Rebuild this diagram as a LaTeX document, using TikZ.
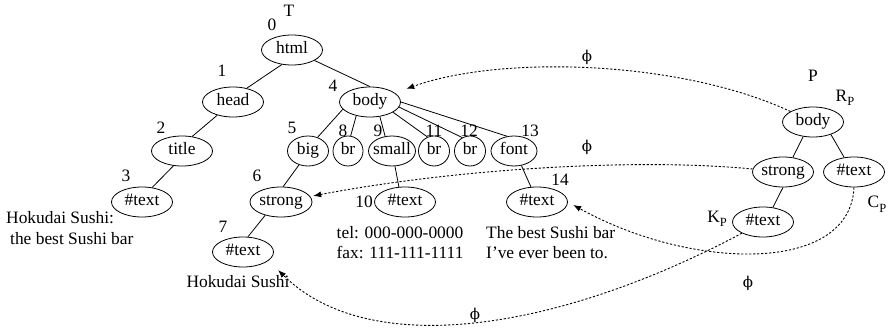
\documentclass[tikz,border=0pt]{standalone}
\usepackage{fontspec}
\setmainfont{Liberation Serif}
\newfontfamily\phifont{DejaVu Serif}
\usetikzlibrary{shapes.geometric,arrows.meta}
% zero-width text so the ellipse size is set only by minimum width/height
\newcommand{\ovtext}[1]{\makebox[0pt]{#1}}
\newcommand{\mapsym}{{\phifont\fontsize{15}{15}\selectfont ϕ}}
% lowered subscript at a fixed size
\newcommand{\lowsub}[1]{\raisebox{-4.5pt}{\fontsize{12.5}{12.5}\selectfont #1}}

\begin{document}
\begin{tikzpicture}[x=1pt,y=-1pt,
  font=\fontsize{17.4}{20.5}\selectfont,
  tn/.style={ellipse, draw, line width=0.8pt, minimum width=61pt, minimum height=30pt,
             inner sep=0pt, text height=11.5pt, text depth=3.5pt},
  lab/.style={inner sep=0pt},
  tedge/.style={line width=0.8pt},
  mapto/.style={line width=0.9pt, dash pattern=on 2.2pt off 1.8pt,
                -{Latex[length=8pt,width=6pt]}},
]
\useasboundingbox (0,0) rectangle (890,328);

% ---- tree T ----
\node[tn] (html)    at (292,50)  {\ovtext{html}};
\node[tn] (head)    at (233,102) {\ovtext{head}};
\node[tn] (title)   at (182,151) {\ovtext{title}};
\node[tn] (t3)      at (142,202) {\ovtext{\#text}};
\node[tn] (Tbody)   at (370,102) {\ovtext{body}};
\node[tn, minimum width=41pt] (big)   at (308,151) {\ovtext{big}};
\node[tn, minimum width=30pt] (br8)   at (348,151) {\ovtext{br}};
\node[tn, minimum width=47pt] (small) at (392,151) {\ovtext{small}};
\node[tn, minimum width=31pt] (br11)  at (434,151) {\ovtext{br}};
\node[tn, minimum width=31pt] (br12)  at (470,151) {\ovtext{br}};
\node[tn, minimum width=46pt] (font)  at (514,151) {\ovtext{font}};
\node[tn, minimum width=62pt] (Tstrong) at (281,202) {\ovtext{strong}};
\node[tn] (t7)      at (243,252) {\ovtext{\#text}};
\node[tn] (t10)     at (405,202) {\ovtext{\#text}};
\node[tn] (t14)     at (537,202) {\ovtext{\#text}};

\draw[tedge] (html.235) -- (head.45);
\draw[tedge] (head.220) -- (title.55);
\draw[tedge] (title.240) -- (t3.55);
\draw[tedge] (html.-25) -- (Tbody.north);
\draw[tedge] (Tbody.195) -- (big.55);
\draw[tedge] (Tbody.225) -- (br8.80);
\draw[tedge] (Tbody.-56) -- (small.115);
\draw[tedge] (Tbody.-24) -- (br11.115);
\draw[tedge] (Tbody.-10) -- (br12.120);
\draw[tedge] (Tbody.east) -- (font.115);
\draw[tedge] (big.237) -- (Tstrong.82);
\draw[tedge] (Tstrong.220) -- (t7.72);
\draw[tedge] (small.-79) -- (t10.112);
\draw[tedge] (font.-63) -- (t14.112);

% node numbers of T
\node[lab] (nT)  at (289,11)  {T};
\node[lab] (n0)  at (272,25)  {0};
\node[lab] (n1)  at (222,71)  {1};
\node[lab] (n2)  at (161,128) {2};
\node[lab] (n3)  at (126,176) {3};
\node[lab] (n4)  at (333,86)  {4};
\node[lab] (n5)  at (292,128) {5};
\node[lab] (n6)  at (257,176) {6};
\node[lab] (n7)  at (223,227) {7};
\node[lab] (n8)  at (343,131) {8};
\node[lab] (n9)  at (378,131) {9};
\node[lab] (n10) at (364,202) {10};
\node[lab] (n11) at (434,131) {11};
\node[lab] (n12) at (469,131) {12};
\node[lab] (n13) at (530,131) {13};
\node[lab] (n14) at (560,180) {14};

% text contents of T
\node[lab, anchor=west, align=left] (s3) at (6,228)
  {Hokudai Sushi:\\\hspace*{4pt}the best Sushi bar};
\node[lab] (s7) at (238,282) {Hokudai Sushi};
\node[lab, align=center] (s10) at (400,242.5) {tel: 000-000-0000\\fax: 111-111-1111};
\node[lab, anchor=west, align=left] (s14) at (486,242.5) {The best Sushi bar\\I’ve ever been to.};

% ---- pattern P ----
\node[tn] (Pbody)   at (813,122) {\ovtext{body}};
\node[tn] (Pstrong) at (783,172) {\ovtext{strong}};
\node[tn] (Pc)      at (854,172) {\ovtext{\#text}};
\node[tn] (Pk)      at (763,222) {\ovtext{\#text}};

\draw[tedge] (Pbody.236) -- (Pstrong.56);
\draw[tedge] (Pbody.-35) -- (Pc.124);
\draw[tedge] (Pstrong.270) -- (Pk.56);

\node[lab] (nP)  at (813,76)  {P};
\node[lab] (nRP) at (845,98)  {R\lowsub{P}};
\node[lab] (nKP) at (717,219) {K\lowsub{P}};
\node[lab] (nCP) at (877,204) {C\lowsub{P}};

% ---- embedding phi ----
\coordinate (kend) at (278,270);
\draw[mapto, shorten >=12pt] (Pbody) .. controls (680,60) and (500,55) .. (Tbody);
\draw[mapto, shorten >=3pt] (Pstrong) .. controls (640,158) and (460,168) .. (Tstrong);
\draw[mapto, shorten >=6pt] (Pc.south) .. controls (850,275) and (690,270) .. (t14.east);
\draw[mapto] (Pk) .. controls (560,330) and (370,361) .. (kend);

\node[lab] (phi1) at (587,57)  {\mapsym};
\node[lab] (phi2) at (587,147) {\mapsym};
\node[lab] (phi3) at (748,283) {\mapsym};
\node[lab] (phi4) at (475,315) {\mapsym};
\end{tikzpicture}
\end{document}
